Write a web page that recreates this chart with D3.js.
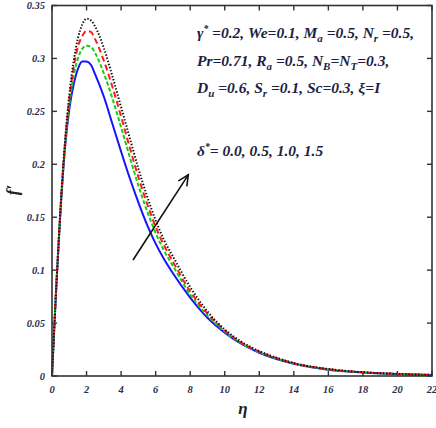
<!DOCTYPE html>
<html>
<head>
<meta charset="utf-8">
<script src="https://cdn.jsdelivr.net/npm/d3@7"></script>
<style>
  html, body { margin: 0; padding: 0; background: #fff; }
  svg { display: block; }
  .tick-label { font-family: "Liberation Serif", "Times New Roman", serif; font-weight: bold; font-style: italic; font-size: 10.5px; fill: #2a3050; }
  .note { font-family: "Liberation Serif", "Times New Roman", serif; font-weight: bold; font-style: italic; font-size: 15.5px; fill: #1c1f45; }
</style>
</head>
<body>
<script>
// Similarity variable η and velocity profiles f'(η) for δ* = 0.0, 0.5, 1.0, 1.5
const eta = [0, 0.25, 0.5, 0.75, 1, 1.25, 1.5, 1.75, 2, 2.25, 2.5, 3, 3.5, 4, 4.5, 5, 5.5, 6, 6.5, 7, 8, 9, 10, 11, 12, 13, 14, 16, 18, 20, 22];
const fpDelta00 = [0, 0.085, 0.158, 0.215, 0.252, 0.275, 0.290, 0.297, 0.297, 0.294, 0.285, 0.264, 0.238, 0.212, 0.187, 0.164, 0.143, 0.125, 0.110, 0.097, 0.074, 0.055, 0.041, 0.030, 0.022, 0.016, 0.0115, 0.0060, 0.0033, 0.0018, 0.0010];
const fpDelta05 = [0, 0.085, 0.159, 0.217, 0.256, 0.283, 0.300, 0.309, 0.312, 0.311, 0.305, 0.286, 0.262, 0.235, 0.207, 0.180, 0.156, 0.135, 0.118, 0.104, 0.077, 0.057, 0.042, 0.0305, 0.0225, 0.0165, 0.0118, 0.0062, 0.0034, 0.0019, 0.0010];
const fpDelta10 = [0, 0.085, 0.160, 0.219, 0.261, 0.291, 0.311, 0.321, 0.326, 0.325, 0.318, 0.298, 0.273, 0.245, 0.216, 0.188, 0.163, 0.141, 0.123, 0.108, 0.080, 0.059, 0.043, 0.031, 0.023, 0.017, 0.012, 0.0064, 0.0035, 0.0020, 0.0010];
const fpDelta15 = [0, 0.085, 0.160, 0.221, 0.265, 0.297, 0.319, 0.332, 0.3375, 0.336, 0.330, 0.310, 0.283, 0.254, 0.225, 0.196, 0.170, 0.147, 0.128, 0.113, 0.084, 0.061, 0.044, 0.032, 0.0235, 0.0172, 0.0122, 0.0066, 0.0036, 0.0020, 0.0010];

const xTicks = [0, 2, 4, 6, 8, 10, 12, 14, 16, 18, 20, 22];
const yTicks = [0, 0.05, 0.1, 0.15, 0.2, 0.25, 0.3, 0.35];
const yTickLabels = ["0", "0.05", "0.1", "0.15", "0.2", "0.25", "0.3", "0.35"];

// Arrow marking the direction of increasing δ*: [η, f'] of tail and head
const arrowTail = [4.71, 0.11];
const arrowHead = [7.89, 0.19];

const series = [
  { values: fpDelta00, color: "#1414ff", dash: null },
  { values: fpDelta05, color: "#10d010", dash: "4,2.2" },
  { values: fpDelta10, color: "#ff1a1a", dash: "6,3.5" },
  { values: fpDelta15, color: "#111111", dash: "1.4,1.8" }
];

const W = 436, H = 428;
const m = { left: 52, right: 4, top: 5.5, bottom: 52 };

const svg = d3.select("body").append("svg").attr("width", W).attr("height", H);

const x = d3.scaleLinear().domain([0, 22]).range([m.left, W - m.right]);
const y = d3.scaleLinear().domain([0, 0.35]).range([H - m.bottom, m.top]);

// Inward ticks on all four sides
const tickLen = 5;
const frame = svg.append("g").attr("stroke", "#333").attr("stroke-width", 1.4);
xTicks.forEach(v => {
  frame.append("line").attr("x1", x(v)).attr("x2", x(v)).attr("y1", y(0)).attr("y2", y(0) - tickLen);
  frame.append("line").attr("x1", x(v)).attr("x2", x(v)).attr("y1", y(0.35)).attr("y2", y(0.35) + tickLen);
});
yTicks.forEach(v => {
  frame.append("line").attr("x1", x(0)).attr("x2", x(0) + tickLen).attr("y1", y(v)).attr("y2", y(v));
  frame.append("line").attr("x1", x(22)).attr("x2", x(22) - tickLen).attr("y1", y(v)).attr("y2", y(v));
});

// Curves
const line = d3.line()
  .x((d, i) => x(eta[i]))
  .y(d => y(d))
  .curve(d3.curveMonotoneX);

series.forEach(s => {
  svg.append("path")
    .attr("d", line(s.values))
    .attr("fill", "none")
    .attr("stroke", s.color)
    .attr("stroke-width", 2)
    .attr("stroke-dasharray", s.dash);
});

// Plot frame
svg.append("rect")
  .attr("x", x(0)).attr("y", y(0.35))
  .attr("width", x(22) - x(0)).attr("height", y(0) - y(0.35))
  .attr("fill", "none").attr("stroke", "#333").attr("stroke-width", 1.6);

// Tick labels
svg.append("g").selectAll("text").data(xTicks).join("text")
  .attr("class", "tick-label")
  .attr("x", d => x(d)).attr("y", y(0) + 17)
  .attr("text-anchor", "middle")
  .text(d => d);

svg.append("g").selectAll("text").data(yTicks).join("text")
  .attr("class", "tick-label")
  .attr("x", x(0) - 7).attr("y", d => y(d) + 3.5)
  .attr("text-anchor", "end")
  .text((d, i) => yTickLabels[i]);

// Axis titles
svg.append("text")
  .attr("x", 243).attr("y", 414)
  .attr("text-anchor", "middle")
  .style("font-family", "Liberation Serif, serif").style("font-weight", "bold").style("font-style", "italic")
  .style("font-size", "17px").attr("fill", "#222")
  .text("η");

svg.append("text")
  .attr("transform", "translate(18,190) rotate(-90)")
  .attr("text-anchor", "middle")
  .style("font-family", "Liberation Serif, serif").style("font-weight", "bold").style("font-style", "italic")
  .style("font-size", "17px").attr("fill", "#222")
  .text("f′");

// Arrow
const ax1 = x(arrowTail[0]), ay1 = y(arrowTail[1]);
const ax2 = x(arrowHead[0]), ay2 = y(arrowHead[1]);
const ang = Math.atan2(ay2 - ay1, ax2 - ax1);
const hl = 11, ha = 0.45;
const arrow = svg.append("g").attr("stroke", "#111").attr("stroke-width", 1.6).attr("fill", "none").attr("stroke-linecap", "round");
arrow.append("line").attr("x1", ax1).attr("y1", ay1).attr("x2", ax2).attr("y2", ay2);
arrow.append("path").attr("d",
  `M${ax2 - hl * Math.cos(ang - ha)},${ay2 - hl * Math.sin(ang - ha)}L${ax2},${ay2}L${ax2 - hl * Math.cos(ang + ha)},${ay2 - hl * Math.sin(ang + ha)}`);

// Parameter annotations
function note(px, py, parts) {
  const t = svg.append("text").attr("class", "note").attr("x", px).attr("y", py);
  parts.forEach(p => {
    const sp = t.append("tspan").text(p[0]);
    if (p[1] === "sub") sp.attr("baseline-shift", "-35%").style("font-size", "11px");
    if (p[1] === "sup") sp.attr("baseline-shift", "60%").style("font-size", "9.5px");
  });
}
note(197, 38, [["γ"], ["*", "sup"], [" =0.2, We=0.1, M"], ["a", "sub"], [" =0.5, N"], ["r", "sub"], [" =0.5,"]]);
note(197, 66, [["Pr=0.71, R"], ["a", "sub"], [" =0.5, N"], ["B", "sub"], ["=N"], ["T", "sub"], ["=0.3,"]]);
note(197, 93, [["D"], ["u", "sub"], [" =0.6,  S"], ["r", "sub"], [" =0.1, Sc=0.3, ξ=I"]]);
note(197, 156, [["δ"], ["*", "sup"], ["= 0.0, 0.5, 1.0, 1.5"]]);
</script>
</body>
</html>
